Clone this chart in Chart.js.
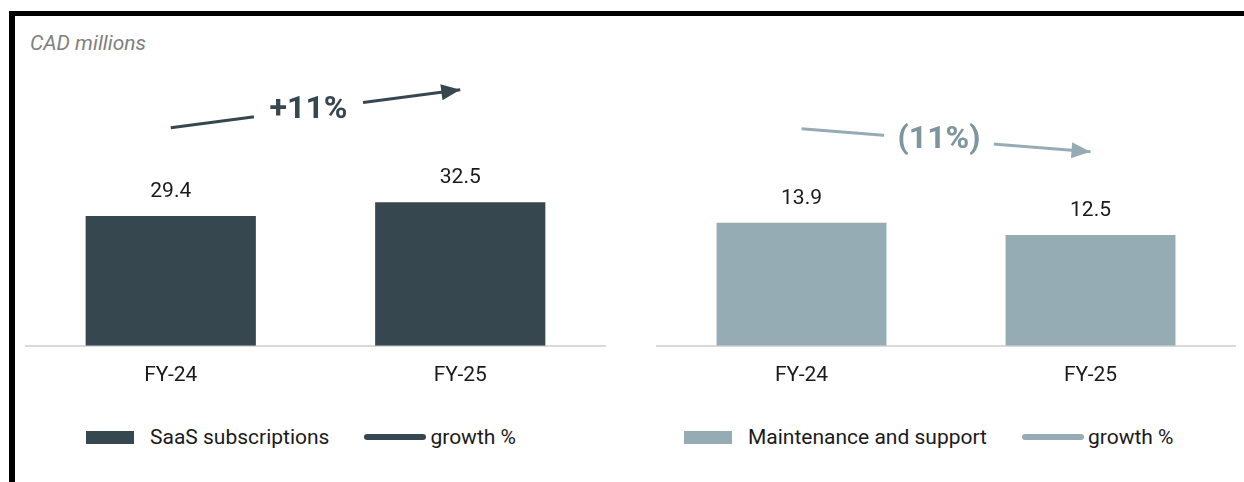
<!DOCTYPE html>
<html>
<head>
<meta charset="utf-8">
<script src="https://cdn.jsdelivr.net/npm/chart.js@4"></script>
<style>
  body { margin: 0; background: #fff; font-family: Roboto, sans-serif; }
  #frame { position: absolute; left: 9px; top: 11px; width: 1235px; height: 471px;
           border-top: 5px solid #000; border-left: 6px solid #000; box-sizing: border-box; }
  #unit { position: absolute; left: 30px; top: 31px; font-size: 21px; font-style: italic; color: #808080; }
  canvas { position: absolute; top: 16px; }
  .legend { position: absolute; top: 427px; height: 20px; display: flex; align-items: center;
            font-size: 21px; color: #1a1a1a; white-space: nowrap; }
  .sw-bar { width: 48px; height: 13px; margin-right: 16px; }
  .sw-line { width: 62px; height: 6px; border-radius: 3px; margin-left: 35px; margin-right: 4px; }
</style>
</head>
<body>
<div id="frame"></div>
<div id="unit">CAD millions</div>
<canvas id="left" width="604" height="400" style="left:16px"></canvas>
<canvas id="right" width="624" height="400" style="left:620px"></canvas>
<div class="legend" id="legLeft" style="left:86px"></div>
<div class="legend" id="legRight" style="left:684px"></div>
<script>
const categories = ["FY-24", "FY-25"]
const saasValues = [29.4, 32.5]
const maintValues = [13.9, 12.5]
const saasGrowth = "+11%"
const maintGrowth = "(11%)"
// growth arrow ends, in each chart's value units
const saasArrow = [49.4, 58.0]
const maintArrow = [24.5, 21.9]
const saasName = "SaaS subscriptions"
const maintName = "Maintenance and support"
const growthName = "growth %"

const darkColor = "#37474f"
const lightColor = "#96acb5"

const valueLabels = {
  id: "valueLabels",
  afterDatasetsDraw(chart) {
    const ctx = chart.ctx
    const meta = chart.getDatasetMeta(0)
    ctx.save()
    ctx.font = "21px Roboto"
    ctx.fillStyle = "#1a1a1a"
    ctx.textAlign = "center"
    ctx.textBaseline = "alphabetic"
    meta.data.forEach((bar, i) => {
      ctx.fillText(chart.data.datasets[0].data[i].toFixed(1), bar.x, bar.y - 19)
    })
    ctx.restore()
  }
}

const growthArrow = {
  id: "growthArrow",
  afterDatasetsDraw(chart, args, opts) {
    const ctx = chart.ctx
    const pts = chart.getDatasetMeta(1).data
    const p0 = pts[0], p1 = pts[1]
    const dx = p1.x - p0.x, dy = p1.y - p0.y
    const len = Math.sqrt(dx * dx + dy * dy)
    const ux = dx / len, uy = dy / len
    const mx = (p0.x + p1.x) / 2 + opts.shift
    const my = p0.y + (mx - p0.x) * dy / dx
    ctx.save()
    // gap in the line for the label
    ctx.strokeStyle = "#fff"
    ctx.lineWidth = 8
    ctx.beginPath()
    ctx.moveTo(mx - ux * opts.gap, my - uy * opts.gap)
    ctx.lineTo(mx + ux * opts.gap, my + uy * opts.gap)
    ctx.stroke()
    // arrow head
    ctx.fillStyle = opts.color
    ctx.beginPath()
    ctx.moveTo(p1.x, p1.y)
    ctx.lineTo(p1.x - ux * 19 - uy * 8, p1.y - uy * 19 + ux * 8)
    ctx.lineTo(p1.x - ux * 19 + uy * 8, p1.y - uy * 19 - ux * 8)
    ctx.closePath()
    ctx.fill()
    ctx.font = "bold 32px Roboto"
    ctx.fillStyle = opts.textColor
    ctx.textAlign = "center"
    ctx.textBaseline = "middle"
    ctx.fillText(opts.label, mx, my)
    ctx.restore()
  }
}

function makeChart(id, barName, values, arrow, color, textColor, label, yMax, pad) {
  return new Chart(document.getElementById(id), {
    type: "bar",
    data: {
      labels: categories,
      datasets: [
        {
          label: barName,
          data: values,
          backgroundColor: color,
          categoryPercentage: 1,
          barPercentage: 0.588,
          order: 2
        },
        {
          type: "line",
          label: growthName,
          data: arrow,
          borderColor: color,
          backgroundColor: color,
          borderWidth: 3,
          pointRadius: 0,
          order: 1
        }
      ]
    },
    options: {
      responsive: false,
      animation: false,
      layout: { padding: pad },
      plugins: {
        legend: { display: false },
        tooltip: { enabled: false },
        growthArrow: { label, color, textColor, shift: -7, gap: 55 }
      },
      scales: {
        x: {
          grid: { display: false, drawTicks: false },
          border: { color: "#dadada", width: 2 },
          ticks: { color: "#1a1a1a", padding: 17, font: { family: "Roboto", size: 21, lineHeight: 1.2 } }
        },
        y: { display: false, min: 0, max: yMax }
      }
    },
    plugins: [valueLabels, growthArrow]
  })
}

const leftChart = makeChart("left", saasName, saasValues, saasArrow, darkColor, darkColor, saasGrowth, 60,
  { left: 10, right: 15, top: 65, bottom: 11 })
const rightChart = makeChart("right", maintName, maintValues, maintArrow, lightColor, "#7d959f", maintGrowth, 30,
  { left: 37, right: 9, top: 64, bottom: 11 })

function buildLegend(el, chart) {
  const ds = chart.data.datasets
  el.innerHTML =
    `<div class="sw-bar" style="background:${ds[0].backgroundColor}"></div><span>${ds[0].label}</span>` +
    `<div class="sw-line" style="background:${ds[1].borderColor}"></div><span>${ds[1].label}</span>`
}
buildLegend(document.getElementById("legLeft"), leftChart)
buildLegend(document.getElementById("legRight"), rightChart)
</script>
</body>
</html>
